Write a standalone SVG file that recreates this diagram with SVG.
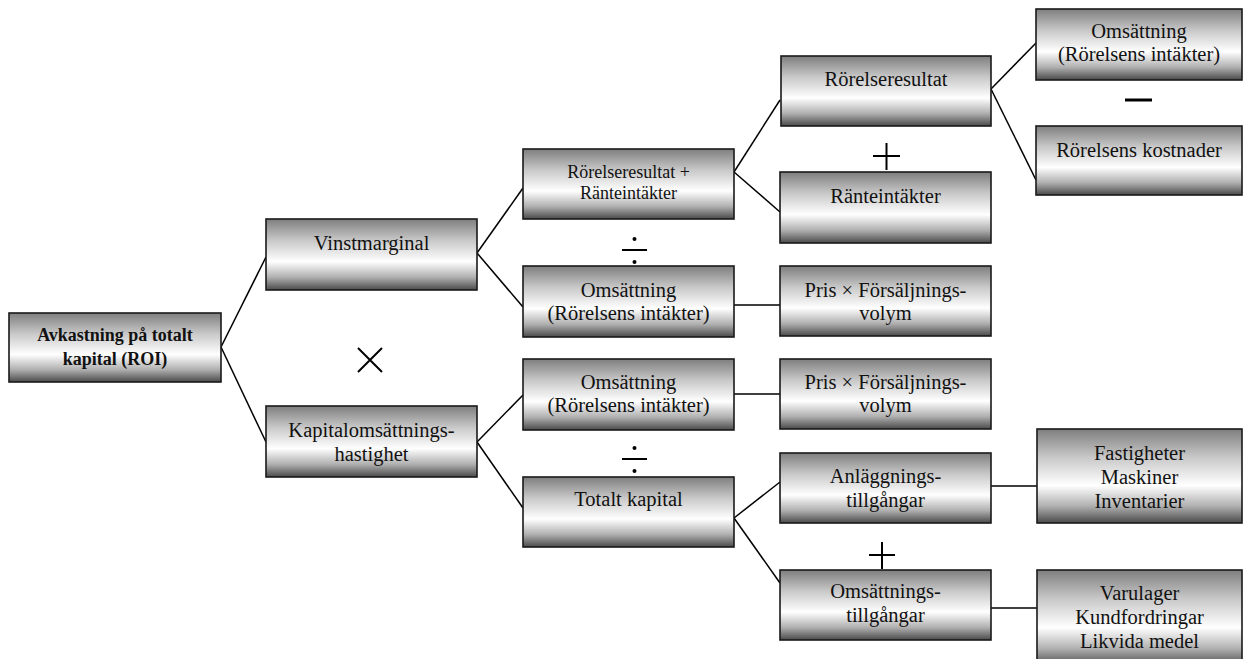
<svg xmlns="http://www.w3.org/2000/svg" width="1245" height="659" viewBox="0 0 1245 659">
  <defs>
    <!-- vertical metallic shading used by every box -->
    <linearGradient id="metal" x1="0" y1="0" x2="0" y2="1">
      <stop offset="0" stop-color="#7e7e7e"/>
      <stop offset="0.3" stop-color="#c8c8c8"/>
      <stop offset="0.6" stop-color="#ffffff"/>
      <stop offset="0.82" stop-color="#b0b0b0"/>
      <stop offset="1" stop-color="#4a4a4a"/>
    </linearGradient>
  </defs>
  <style>
    .box { fill: url(#metal); stroke: #1a1a1a; stroke-width: 1.6; }
    .t { font-family: "Liberation Serif", "Times New Roman", serif; font-size: 20.5px; fill: #111; text-anchor: middle; }
    .s { font-size: 18px; }
    .b { font-family: "Liberation Serif", "Times New Roman", serif; font-size: 18px; font-weight: bold; fill: #111; text-anchor: middle; }
    .conn line { stroke: #000; stroke-width: 1.5; }
    .op { stroke: #000; stroke-width: 2; fill: none; }
  </style>

  <rect width="1245" height="659" fill="#ffffff"/>

  <!-- connectors -->
  <g id="connectors" class="conn">
    <line x1="221" y1="347" x2="266" y2="257"/>
    <line x1="221" y1="347" x2="266" y2="442"/>
    <line x1="477" y1="253" x2="523" y2="188"/>
    <line x1="477" y1="253" x2="523" y2="307"/>
    <line x1="477" y1="442" x2="523" y2="395"/>
    <line x1="477" y1="442" x2="523" y2="508"/>
    <line x1="734" y1="172" x2="780" y2="100"/>
    <line x1="734" y1="172" x2="780" y2="212"/>
    <line x1="734" y1="305" x2="780" y2="305"/>
    <line x1="734" y1="394" x2="780" y2="394"/>
    <line x1="734" y1="518" x2="780" y2="482"/>
    <line x1="734" y1="518" x2="780" y2="583"/>
    <line x1="991" y1="89" x2="1036" y2="43"/>
    <line x1="991" y1="89" x2="1036" y2="180"/>
    <line x1="991" y1="486" x2="1037" y2="486"/>
    <line x1="991" y1="608" x2="1037" y2="608"/>
  </g>

  <!-- operators -->
  <g id="operators">
    <path class="op" d="M358 348 L382 372 M382 348 L358 372"/>
    <g id="div1">
      <line class="op" x1="622" y1="250" x2="647" y2="250"/>
      <circle cx="634.5" cy="239" r="2" fill="#000"/>
      <circle cx="634.5" cy="262" r="2" fill="#000"/>
    </g>
    <g id="div2">
      <line class="op" x1="622" y1="459" x2="647" y2="459"/>
      <circle cx="634.5" cy="448" r="2" fill="#000"/>
      <circle cx="634.5" cy="471" r="2" fill="#000"/>
    </g>
    <path class="op" d="M873 156 H900 M886.5 143 V170"/>
    <path class="op" d="M869 555 H895 M882 542 V569"/>
    <line x1="1125" y1="100" x2="1152" y2="100" stroke="#000" stroke-width="3"/>
  </g>

  <!-- nodes -->
  <g id="n-roi">
    <rect class="box" x="9" y="313" width="212" height="69"/>
    <text class="b" x="115" y="341">Avkastning på totalt</text>
    <text class="b" x="115" y="365">kapital (ROI)</text>
  </g>

  <g id="n-vinstmarginal">
    <rect class="box" x="266" y="219" width="211" height="71"/>
    <text class="t" x="371.5" y="250">Vinstmarginal</text>
  </g>

  <g id="n-kapitaloms">
    <rect class="box" x="266" y="406" width="211" height="71"/>
    <text class="t" x="371.5" y="437">Kapitalomsättnings-</text>
    <text class="t" x="371.5" y="461">hastighet</text>
  </g>

  <g id="n-rr-ri">
    <rect class="box" x="523" y="149" width="211" height="70"/>
    <text class="t s" x="628.5" y="178">Rörelseresultat +</text>
    <text class="t s" x="628.5" y="199">Ränteintäkter</text>
  </g>

  <g id="n-oms1">
    <rect class="box" x="523" y="266" width="211" height="71"/>
    <text class="t" x="628.5" y="297">Omsättning</text>
    <text class="t" x="628.5" y="320">(Rörelsens intäkter)</text>
  </g>

  <g id="n-oms2">
    <rect class="box" x="523" y="359" width="211" height="71"/>
    <text class="t" x="628.5" y="389">Omsättning</text>
    <text class="t" x="628.5" y="412">(Rörelsens intäkter)</text>
  </g>

  <g id="n-totalt">
    <rect class="box" x="523" y="477" width="211" height="70"/>
    <text class="t" x="628.5" y="506">Totalt kapital</text>
  </g>

  <g id="n-rorelseresultat">
    <rect class="box" x="781" y="56" width="210" height="70"/>
    <text class="t" x="886" y="86">Rörelseresultat</text>
  </g>

  <g id="n-ranteintakter">
    <rect class="box" x="780" y="172" width="211" height="71"/>
    <text class="t" x="885.5" y="203">Ränteintäkter</text>
  </g>

  <g id="n-pris1">
    <rect class="box" x="780" y="266" width="211" height="70"/>
    <text class="t" x="885.5" y="297">Pris × Försäljnings-</text>
    <text class="t" x="885.5" y="320">volym</text>
  </g>

  <g id="n-pris2">
    <rect class="box" x="780" y="359" width="211" height="70"/>
    <text class="t" x="885.5" y="389">Pris × Försäljnings-</text>
    <text class="t" x="885.5" y="412">volym</text>
  </g>

  <g id="n-anlaggning">
    <rect class="box" x="780" y="453" width="211" height="70"/>
    <text class="t" x="885.5" y="483">Anläggnings-</text>
    <text class="t" x="885.5" y="507">tillgångar</text>
  </g>

  <g id="n-omsattningstillg">
    <rect class="box" x="780" y="570" width="211" height="70"/>
    <text class="t" x="885.5" y="598">Omsättnings-</text>
    <text class="t" x="885.5" y="622">tillgångar</text>
  </g>

  <g id="n-oms3">
    <rect class="box" x="1036" y="9" width="206" height="71"/>
    <text class="t" x="1139" y="38">Omsättning</text>
    <text class="t" x="1139" y="61">(Rörelsens intäkter)</text>
  </g>

  <g id="n-kostnader">
    <rect class="box" x="1036" y="126" width="206" height="69"/>
    <text class="t" x="1139" y="157">Rörelsens kostnader</text>
  </g>

  <g id="n-fastigheter">
    <rect class="box" x="1037" y="429" width="205" height="94"/>
    <text class="t" x="1139.5" y="460">Fastigheter</text>
    <text class="t" x="1139.5" y="484">Maskiner</text>
    <text class="t" x="1139.5" y="508">Inventarier</text>
  </g>

  <g id="n-varulager">
    <rect class="box" x="1037" y="570" width="205" height="96"/>
    <text class="t" x="1139.5" y="600">Varulager</text>
    <text class="t" x="1139.5" y="624">Kundfordringar</text>
    <text class="t" x="1139.5" y="648">Likvida medel</text>
  </g>
</svg>
